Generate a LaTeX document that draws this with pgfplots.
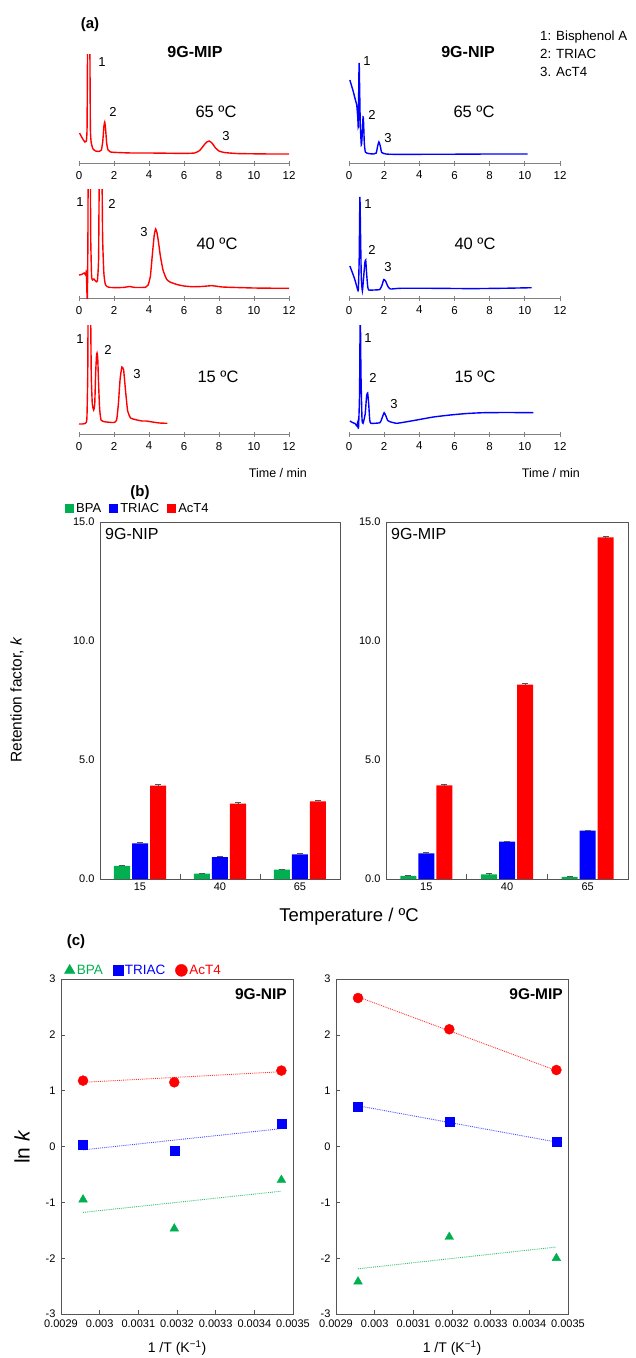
\documentclass[border=0pt]{standalone}
\usepackage{pgfplots}
\pgfplotsset{compat=1.18}
\usepackage{fontspec}
\setmainfont{Liberation Sans}

\definecolor{cgreen}{RGB}{0,176,80}
\definecolor{cblue}{RGB}{0,0,255}
\definecolor{cred}{RGB}{255,0,0}
\definecolor{frame}{RGB}{85,85,85}
\newcommand{\fs}[1]{\fontsize{#1}{#1}\selectfont}

\pgfplotsset{
  every axis/.append style={/pgf/number format/assume math mode=true},
  chrom/.style={anchor=south west, scale only axis, width=210pt, height=109pt,
    xmin=0, xmax=12, ymin=0, ymax=109, hide y axis,
    axis x line=bottom, axis line style={-, gray, line width=0.7pt},
    xtick={0,2,...,12}, tick style={gray, line width=0.7pt},
    major tick length=5pt, tick align=center,
    xticklabel style={font=\fs{11.5}, yshift=-2pt}},
  redtrace/.style={cred, line width=1.4pt, smooth, tension=0.3},
  bluetrace/.style={cblue, line width=1.4pt, smooth, tension=0.3},
  barax/.style={anchor=south west, scale only axis, height=357pt,
    xmin=-0.5, xmax=2.5, ymin=0, ymax=15, ybar=2pt, bar width=16pt,
    xtick={0,1,2}, xticklabels={15,40,65}, minor xtick={0.5,1.5},
    ytick={0,5,10,15}, yticklabels={0.0,5.0,10.0,15.0},
    tick pos=left, tick align=inside, major tick length=0pt, minor tick length=5pt,
    axis line style={frame, line width=0.9pt}, tick style={frame, line width=0.8pt},
    ticklabel style={font=\fs{11}}, yticklabel style={xshift=-2pt},
    error bars/y dir=plus, error bars/y explicit,
    error bars/error bar style={frame, line width=0.6pt},
    error bars/error mark options={rotate=90, mark size=3pt, frame, line width=0.6pt}},
  lnax/.style={anchor=south west, scale only axis, width=232pt, height=335pt,
    xmin=0.0029, xmax=0.0035, ymin=-3, ymax=3, scaled x ticks=false,
    xtick={0.0029,0.003,0.0031,0.0032,0.0033,0.0034,0.0035},
    xticklabels={0.0029,0.003,0.0031,0.0032,0.0033,0.0034,0.0035},
    ytick={-3,-2,-1,0,1,2,3}, yticklabels={-3,-2,-1,0,1,2,3},
    tick pos=left, tick align=inside, major tick length=4pt,
    axis line style={frame, line width=0.9pt}, tick style={frame, line width=0.7pt},
    ticklabel style={font=\fs{11}}, xticklabel style={yshift=-2pt},
    yticklabel style={xshift=-2pt}},
  bpa/.style={only marks, mark=triangle*, mark size=5pt, cgreen},
  triac/.style={only marks, mark=square*, mark size=4.5pt, cblue},
  act/.style={only marks, mark=*, mark size=5pt, cred},
  fit/.style={densely dotted, line width=0.9pt, forget plot},
}

\begin{document}
\begin{tikzpicture}
\path[use as bounding box] (0,0) rectangle (636pt,-1358pt);

% ---------------- (a) chromatograms ----------------
% 9G-MIP 65 C
\begin{axis}[chrom, at={(79pt,-163pt)}]
\addplot[redtrace] coordinates {(0.03,30) (0.15,26) (0.25,23) (0.34,21) (0.42,22) (0.46,35) (0.49,120) (0.5,140) (0.6,140) (0.62,120) (0.65,35) (0.7,20) (0.8,14) (0.95,12) (1.15,11.5) (1.28,13) (1.36,22) (1.42,36) (1.47,41) (1.52,34) (1.58,20) (1.66,13) (1.8,11) (2.2,10.5) (3,10) (4,10) (5,9.8) (6,9.6) (6.6,10) (6.9,12.5) (7.1,17) (7.3,21) (7.43,22) (7.6,20) (7.8,15) (8.0,12) (8.3,10.5) (9,9.5) (10,9.2) (11,9) (12,9)};
\end{axis}
% 9G-MIP 40 C
\begin{axis}[chrom, at={(79pt,-298pt)}]
\addplot[redtrace] coordinates {(0,23) (0.15,23.5) (0.3,25) (0.38,23) (0.42,26) (0.46,2) (0.48,0.5) (0.51,60) (0.53,140) (0.64,140) (0.67,60) (0.72,22) (0.78,18) (0.85,19) (0.95,17) (1.05,17) (1.12,40) (1.17,140) (1.3,140) (1.35,60) (1.42,25) (1.5,14) (1.6,11.5) (1.8,10.5) (2.5,10.5) (2.9,11.5) (3.2,10.5) (3.8,10.7) (3.95,13) (4.08,22) (4.2,45) (4.3,63) (4.38,69) (4.46,65) (4.55,55) (4.65,42) (4.8,28) (5.0,19) (5.2,16) (5.6,13.5) (6,12) (6.5,11.3) (7,11.5) (7.6,12.3) (8.2,11) (9,10.5) (10,10) (11,9.8) (12,9.7)};
\end{axis}
% 9G-MIP 15 C
\begin{axis}[chrom, at={(79pt,-434pt)}]
\addplot[redtrace] coordinates {(0,10) (0.2,10) (0.35,10.5) (0.45,15) (0.5,60) (0.53,140) (0.65,140) (0.7,60) (0.76,30) (0.84,24) (0.9,30) (0.95,60) (1.0,78) (1.03,81) (1.07,76) (1.12,50) (1.18,25) (1.26,14) (1.45,12.3) (1.7,11.8) (2.0,11.5) (2.15,14) (2.25,30) (2.35,55) (2.45,67) (2.55,64) (2.65,45) (2.78,23) (2.95,16) (3.2,14.5) (3.6,13) (3.85,13) (4.2,12) (4.6,11) (5.05,10.7)};
\end{axis}
% 9G-NIP 65 C
\begin{axis}[chrom, width=211pt, at={(349pt,-163pt)}]
\addplot[bluetrace] coordinates {(0.05,83) (0.15,77) (0.25,71) (0.35,64) (0.44,58) (0.5,45) (0.53,36) (0.56,85) (0.58,100) (0.6,80) (0.64,40) (0.7,18) (0.74,25) (0.8,46) (0.83,40) (0.87,20) (0.93,11) (1.1,9.5) (1.4,9) (1.55,10) (1.63,17) (1.7,21) (1.78,17) (1.86,10.5) (2.1,9) (2.5,8.7) (4,8.7) (6,8.8) (8,9) (10.16,9)};
\end{axis}
% 9G-NIP 40 C
\begin{axis}[chrom, width=211pt, at={(349pt,-298pt)}]
\addplot[bluetrace] coordinates {(0.05,32) (0.2,25) (0.34,18) (0.45,11) (0.53,8) (0.58,40) (0.62,101) (0.66,60) (0.7,20) (0.76,7) (0.82,18) (0.9,35) (0.95,38) (1.0,25) (1.06,12) (1.12,8) (1.4,8) (1.75,8.5) (1.88,13) (1.98,18.5) (2.08,17) (2.2,12) (2.35,9) (2.9,9.7) (4.8,9.7) (7,9.4) (9,9.8) (10.39,10.3)};
\end{axis}
% 9G-NIP 15 C
\begin{axis}[chrom, width=211pt, at={(349pt,-434pt)}]
\addplot[bluetrace] coordinates {(0.05,13) (0.2,11.5) (0.34,10.5) (0.45,8) (0.5,12) (0.54,6) (0.6,40) (0.64,125) (0.68,60) (0.74,15) (0.8,10.7) (0.92,20) (1.0,38) (1.06,41) (1.12,30) (1.18,14) (1.25,10.7) (1.76,11.3) (1.88,16) (2.0,21.3) (2.1,18) (2.2,13.5) (2.33,12.3) (2.7,10.7) (3.2,12) (3.85,14) (4.8,17) (5.75,19) (6.7,20.5) (7.64,21.3) (9,21.5) (10.49,21.3)};
\end{axis}

\node[font=\fs{15}\bfseries] at (90pt,-25pt) {(a)};
\node[font=\fs{16}\bfseries] at (195pt,-52pt) {9G-MIP};
\node[font=\fs{16}\bfseries] at (468pt,-52pt) {9G-NIP};
\begin{scope}[every node/.style={font=\fs{13.3}, anchor=west, inner sep=0pt}]
\node at (540pt,-37pt) {1: Bisphenol A};
\node at (540pt,-54pt) {2: TRIAC};
\node at (540pt,-72pt) {3. AcT4};
\end{scope}
\begin{scope}[every node/.style={font=\fs{13}}]
\node at (102pt,-62pt) {1}; \node at (113pt,-112pt) {2}; \node at (226pt,-136pt) {3};
\node at (367pt,-61pt) {1}; \node at (372pt,-115pt) {2}; \node at (388pt,-138pt) {3};
\node at (80pt,-202pt) {1}; \node at (112pt,-204pt) {2}; \node at (144pt,-232pt) {3};
\node at (368pt,-204pt) {1}; \node at (372pt,-250pt) {2}; \node at (388pt,-267pt) {3};
\node at (80pt,-339pt) {1}; \node at (108pt,-350pt) {2}; \node at (137pt,-374pt) {3};
\node at (368pt,-338pt) {1}; \node at (373pt,-378pt) {2}; \node at (394pt,-404pt) {3};
\end{scope}
\begin{scope}[every node/.style={font=\fs{16.5}}]
\node at (216pt,-112pt) {65 ºC}; \node at (474pt,-112pt) {65 ºC};
\node at (217pt,-244pt) {40 ºC}; \node at (475pt,-244pt) {40 ºC};
\node at (218pt,-377pt) {15 ºC}; \node at (475pt,-377pt) {15 ºC};
\end{scope}
\node[font=\fs{12.5}, anchor=east, inner sep=0pt] at (307pt,-473pt) {Time / min};
\node[font=\fs{12.5}, anchor=east, inner sep=0pt] at (580pt,-473pt) {Time / min};

% ---------------- (b) retention factors ----------------
\begin{axis}[barax, width=240pt, at={(100pt,-879pt)},
  legend style={at={(-0.15,1.0)}, anchor=south west, yshift=5pt, draw=none, fill=none,
    legend columns=3, font=\fs{13}, inner sep=1pt,
    /tikz/every even column/.append style={column sep=6pt}}]
\addplot[fill=cgreen, draw=none, legend image code/.code={\fill[cgreen] (0pt,-4.5pt) rectangle (9pt,4.5pt);}]
  coordinates {(0,0.55) +- (0,0.02) (1,0.23) +- (0,0.02) (2,0.39) +- (0,0.02)};
\addplot[fill=cblue, draw=none, legend image code/.code={\fill[cblue] (0pt,-4.5pt) rectangle (9pt,4.5pt);}]
  coordinates {(0,1.50) +- (0,0.03) (1,0.92) +- (0,0.03) (2,1.04) +- (0,0.03)};
\addplot[fill=cred, draw=none, legend image code/.code={\fill[cred] (0pt,-4.5pt) rectangle (9pt,4.5pt);}]
  coordinates {(0,3.92) +- (0,0.04) (1,3.17) +- (0,0.04) (2,3.26) +- (0,0.04)};
\legend{BPA,TRIAC,AcT4}
\end{axis}
\begin{axis}[barax, width=242pt, at={(386pt,-879pt)}]
\addplot[fill=cgreen, draw=none] coordinates {(0,0.13) +- (0,0.02) (1,0.20) +- (0,0.02) (2,0.09) +- (0,0.02)};
\addplot[fill=cblue, draw=none] coordinates {(0,1.08) +- (0,0.03) (1,1.57) +- (0,0.03) (2,2.03) +- (0,0.03)};
\addplot[fill=cred, draw=none] coordinates {(0,3.93) +- (0,0.04) (1,8.17) +- (0,0.04) (2,14.35) +- (0,0.04)};
\end{axis}
\node[font=\fs{15}\bfseries] at (140pt,-493pt) {(b)};
\node[font=\fs{16}, anchor=north west, inner sep=0pt] at (105pt,-528pt) {9G-NIP};
\node[font=\fs{16}, anchor=north west, inner sep=0pt] at (391pt,-528pt) {9G-MIP};
\node[font=\fs{15.5}, rotate=90] at (17pt,-700pt) {Retention factor, \textit{k}};
\node[font=\fs{18.5}] at (349pt,-917pt) {Temperature / ºC};

% ---------------- (c) van 't Hoff plots ----------------
\begin{axis}[lnax, at={(61pt,-1314pt)},
  legend style={at={(0.01,1.0)}, anchor=south west, draw=none, fill=none,
    legend columns=3, font=\fs{13.5}, inner sep=1pt,
    /tikz/every even column/.append style={column sep=8pt}}]
\addplot[bpa, legend image code/.code={\draw[cgreen, mark=triangle*, mark size=6pt] plot coordinates {(5pt,0pt)};}]
  coordinates {(0.002957,-0.95) (0.003193,-1.47) (0.003470,-0.60)};
\addplot[triac, legend image code/.code={\draw[cblue, mark=square*, mark size=5pt] plot coordinates {(5pt,0pt)};}]
  coordinates {(0.002957,0.04) (0.003193,-0.08) (0.003470,0.41)};
\addplot[act, legend image code/.code={\draw[cred, mark=*, mark size=6pt] plot coordinates {(5pt,0pt)};}]
  coordinates {(0.002957,1.18) (0.003193,1.15) (0.003470,1.36)};
\addplot[fit, cgreen!80] coordinates {(0.002957,-1.18) (0.00347,-0.80)};
\addplot[fit, cblue!70] coordinates {(0.002957,-0.06) (0.00347,0.32)};
\addplot[fit, cred!80] coordinates {(0.002957,1.15) (0.00347,1.34)};
\legend{\textcolor{cgreen}{BPA},\textcolor{cblue}{TRIAC},\textcolor{cred}{AcT4}}
\end{axis}
\begin{axis}[lnax, at={(336pt,-1314pt)}]
\addplot[bpa] coordinates {(0.002957,-2.42) (0.003193,-1.62) (0.003470,-2.00)};
\addplot[triac] coordinates {(0.002957,0.71) (0.003193,0.45) (0.003470,0.08)};
\addplot[act] coordinates {(0.002957,2.66) (0.003193,2.10) (0.003470,1.37)};
\addplot[fit, cgreen!80] coordinates {(0.002957,-2.19) (0.00347,-1.80)};
\addplot[fit, cblue!70] coordinates {(0.002957,0.73) (0.00347,0.08)};
\addplot[fit, cred!80] coordinates {(0.002957,2.68) (0.00347,1.36)};
\end{axis}
\node[font=\fs{15}\bfseries] at (76pt,-942pt) {(c)};
\node[font=\fs{15.5}\bfseries, anchor=north east, inner sep=0pt] at (287pt,-988pt) {9G-NIP};
\node[font=\fs{15.5}\bfseries, anchor=north east, inner sep=0pt] at (563pt,-988pt) {9G-MIP};
\node[font=\fs{21}, rotate=90] at (22pt,-1147pt) {ln \textit{k}};
\node[font=\fs{14}] at (177pt,-1348pt) {1 /T (K\textsuperscript{−1})};
\node[font=\fs{14}] at (452pt,-1348pt) {1 /T (K\textsuperscript{−1})};
\end{tikzpicture}
\end{document}
